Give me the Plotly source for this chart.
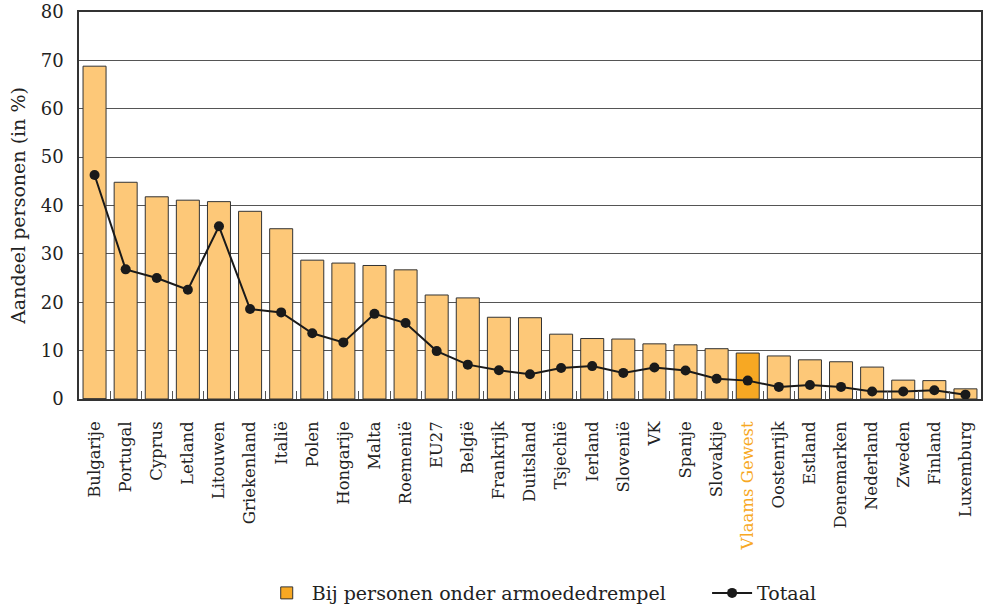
import plotly.graph_objects as go

# Data
landen = ['Bulgarije', 'Portugal', 'Cyprus', 'Letland', 'Litouwen', 'Griekenland', 'Italië',
          'Polen', 'Hongarije', 'Malta', 'Roemenië', 'EU27', 'België', 'Frankrijk',
          'Duitsland', 'Tsjechië', 'Ierland', 'Slovenië', 'VK', 'Spanje', 'Slovakije',
          'Vlaams Gewest', 'Oostenrijk', 'Estland', 'Denemarken', 'Nederland', 'Zweden',
          'Finland', 'Luxemburg']
armoede = [68.8, 44.8, 41.8, 41.1, 40.8, 38.8, 35.2, 28.7, 28.1, 27.6, 26.7, 21.5, 20.9, 16.9,
           16.8, 13.4, 12.5, 12.4, 11.4, 11.2, 10.4, 9.5, 8.9, 8.1, 7.7, 6.6, 3.9, 3.8, 2.1]
totaal = [46.3, 26.8, 25.0, 22.6, 35.7, 18.6, 17.9, 13.6, 11.7, 17.6, 15.7, 9.9, 7.1, 5.95,
          5.1, 6.4, 6.8, 5.4, 6.5, 5.9, 4.2, 3.8, 2.5, 2.9, 2.5, 1.55, 1.55, 1.8, 0.9]
highlight = 'Vlaams Gewest'

licht = '#FDC878'
donker = '#F7A823'
bar_colors = [donker if l == highlight else licht for l in landen]
tick_text = [f'<span style="color:{donker}">{l}</span>' if l == highlight else l for l in landen]

fig = go.Figure()
fig.add_trace(go.Bar(
    x=landen, y=armoede, name='Bij personen onder armoededrempel', showlegend=False,
    marker=dict(color=bar_colors, line=dict(color='#333333', width=1)),
))
# legend entry in the darker colour
fig.add_trace(go.Bar(
    x=[landen[0]], y=[0], name='Bij personen onder armoededrempel' + '\u00a0' * 6,
    marker=dict(color=donker, line=dict(color='#333333', width=1)),
    hoverinfo='skip',
))
fig.add_trace(go.Scatter(
    x=landen, y=totaal, name='Totaal', mode='lines+markers',
    line=dict(color='#1a1a1a', width=2),
    marker=dict(color='#1a1a1a', size=10),
))

fig.update_layout(
    width=984, height=607,
    margin=dict(l=79, r=3, t=12, b=208),
    plot_bgcolor='white', paper_bgcolor='white',
    font=dict(family='DejaVu Serif', size=17, color='#222222'),
    bargap=0.26,
    barmode='overlay',
    showlegend=True,
    legend=dict(orientation='h', x=0.513, xanchor='center',
                yref='container', y=0.023, yanchor='middle',
                font=dict(size=19), itemwidth=40, tracegroupgap=0),
)
fig.update_xaxes(
    tickmode='array', tickvals=landen, ticktext=tick_text, tickangle=-90,
    range=[-0.5, len(landen) - 0.5], automargin=False,
    tickfont=dict(size=16.5), ticks='inside', tickson='boundaries', ticklen=8,
    ticklabelstandoff=14,
    tickcolor='#555555', showline=True, linecolor='#333333', linewidth=1.5,
    mirror=True, showgrid=False,
)
fig.update_yaxes(
    range=[0, 80], dtick=10, showgrid=True, gridcolor='#555555', gridwidth=1,
    showline=True, linecolor='#333333', linewidth=1.5, mirror=True,
    ticks='', tickfont=dict(size=18), automargin=False, ticklabelstandoff=10,
    title=dict(text='Aandeel personen (in %)', font=dict(size=19), standoff=10),
    zeroline=False,
)

fig.write_html('out.html', config={'displayModeBar': False},
               post_script="document.body.style.margin='0';")
